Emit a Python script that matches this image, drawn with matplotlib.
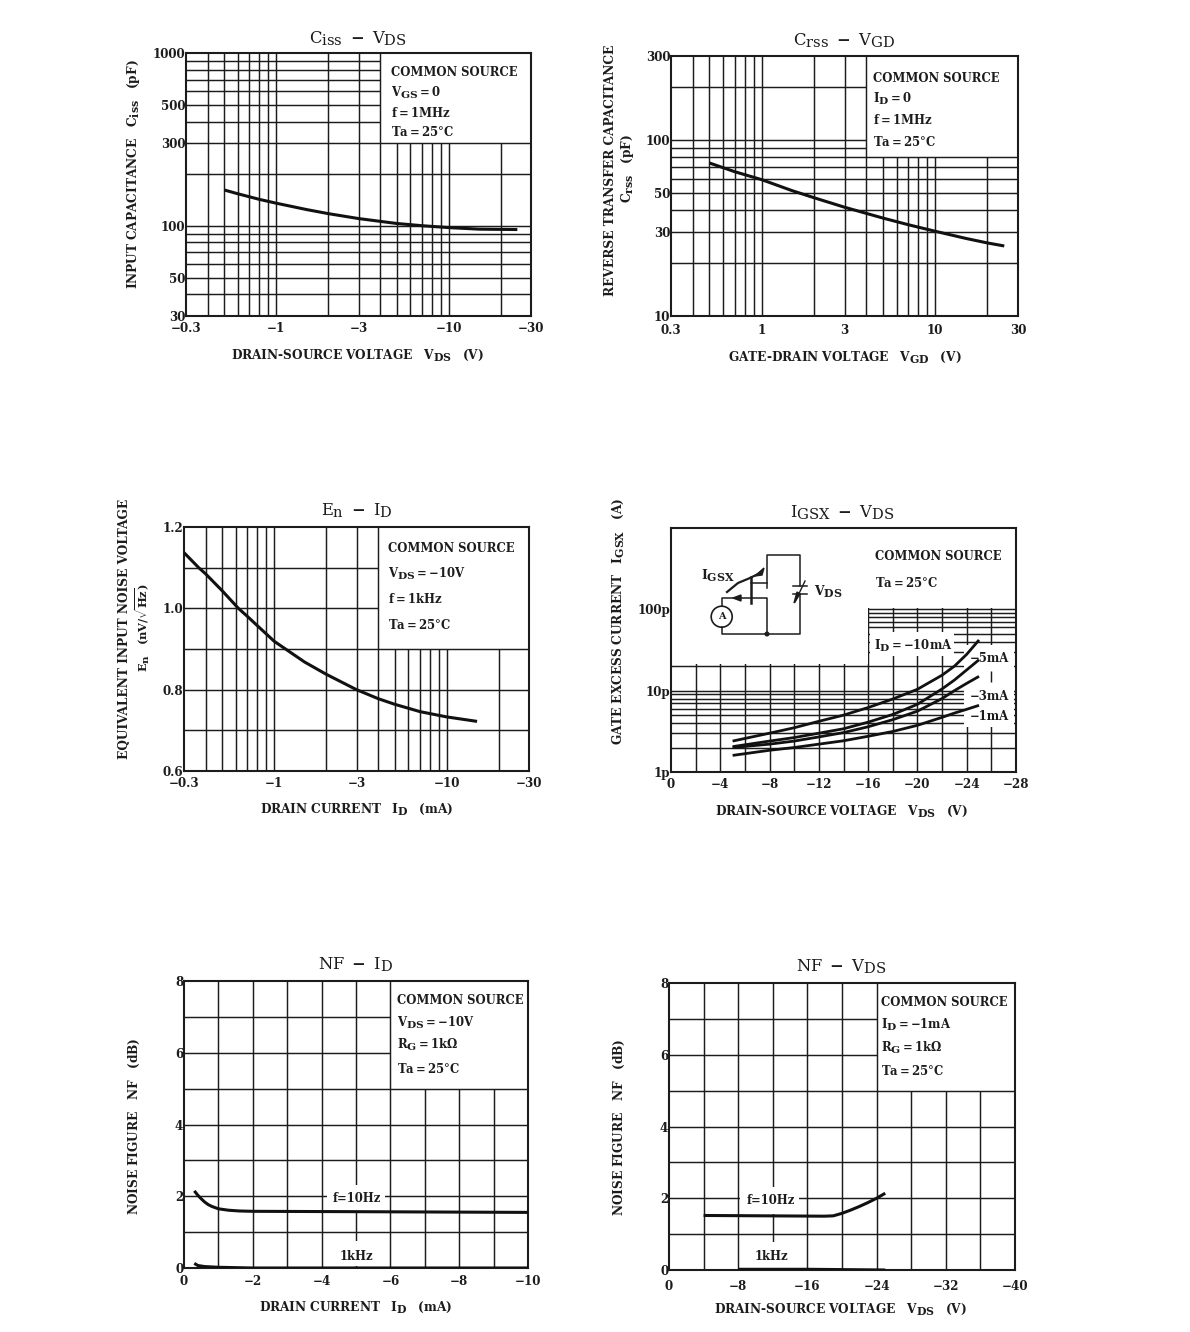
import matplotlib
matplotlib.use("Agg")
import matplotlib.pyplot as plt
from matplotlib.patches import Rectangle, Circle
from matplotlib.ticker import NullLocator
from matplotlib import _mathtext
_mathtext.SHRINK_FACTOR = 0.9

plt.rcParams.update({
    "font.family": "DejaVu Serif", "font.weight": "bold",
    "mathtext.fontset": "custom", "mathtext.rm": "DejaVu Serif:bold",
    "mathtext.it": "DejaVu Serif:normal", "mathtext.bf": "DejaVu Serif:bold",
    "mathtext.default": "it",
})
W, H = 1190, 1332
INK = "#1c1c1c"

# ---------- data ----------
log_grid_x = [0.4, 0.5, 0.6, 0.7, 0.8, 0.9, 1, 2, 3, 4, 5, 6, 7, 8, 9, 10, 20]
log_ticks_x = [0.3, 1, 3, 10, 30]
neg_log_labels = ["−0.3", "−1", "−3", "−10", "−30"]
pos_log_labels = ["0.3", "1", "3", "10", "30"]

ciss_grid_y = [40, 50, 60, 70, 80, 90, 100, 200, 300, 400, 500, 600, 700, 800, 900]
ciss_ticks = [30, 50, 100, 300, 500, 1000]
ciss_vds = [0.5, 0.6, 0.7, 0.8, 1, 1.5, 2, 3, 4, 5, 7, 10, 15, 25]
ciss_val = [161, 153, 147, 142, 135, 124, 117.5, 110, 106, 103, 100, 97.5, 95.5, 95]

crss_grid_y = [20, 30, 40, 50, 60, 70, 80, 90, 100, 200]
crss_ticks = [10, 30, 50, 100, 300]
crss_vgd = [0.5, 0.7, 1, 1.5, 2, 3, 5, 7, 10, 15, 20, 25]
crss_val = [74, 66, 59.5, 51.5, 47, 41.5, 36, 33, 30.3, 27.6, 26, 25]

en_grid_y = [0.7, 0.8, 0.9, 1.0, 1.1]
en_ticks = [0.6, 0.8, 1.0, 1.2]
en_labels = ["0.6", "0.8", "1.0", "1.2"]
en_id = [0.3, 0.365, 0.4, 0.5, 0.62, 0.7, 0.8, 0.9, 1, 1.5, 2, 3, 4, 5, 7, 10, 15]
en_val = [1.137, 1.1, 1.085, 1.043, 1.0, 0.98, 0.957, 0.937, 0.919, 0.868, 0.838, 0.80,
          0.778, 0.764, 0.746, 0.733, 0.722]

igsx_grid_x = [2, 4, 6, 8, 10, 12, 14, 16, 18, 20, 22, 24, 26]
igsx_grid_y = [2, 3, 4, 5, 6, 7, 8, 9, 10, 20, 30, 40, 50, 60, 70, 80, 90, 100]
igsx_ticks_x = [0, 4, 8, 12, 16, 20, 24, 28]
igsx_labels_x = ["0", "−4", "−8", "−12", "−16", "−20", "−24", "−28"]
igsx_ticks_y = [1, 10, 100]
igsx_labels_y = ["1p", "10p", "100p"]
igsx_vds = [5, 8, 10, 12, 14, 16, 18, 20, 22, 23, 24, 25]
igsx_10ma = [2.4, 3.0, 3.5, 4.2, 5.0, 6.2, 7.9, 10.4, 15.5, 20, 28, 42]
igsx_5ma = [2.05, 2.4, 2.65, 3.0, 3.4, 4.1, 5.1, 6.8, 10.5, 13.5, 18, 24]
igsx_3ma = [2.0, 2.2, 2.4, 2.7, 3.05, 3.6, 4.4, 5.6, 8, 10, 12.3, 15]
igsx_1ma = [1.6, 1.85, 2.0, 2.2, 2.42, 2.75, 3.15, 3.75, 4.7, 5.3, 5.9, 6.6]

nf_grid_y = [1, 2, 3, 4, 5, 6, 7]
nf_ticks_y = [0, 2, 4, 6, 8]
nfi_grid_x = [1, 2, 3, 4, 5, 6, 7, 8, 9]
nfi_ticks_x = [0, 2, 4, 6, 8, 10]
nfi_labels_x = ["0", "−2", "−4", "−6", "−8", "−10"]
nfi_id = [0.3, 0.4, 0.5, 0.6, 0.7, 0.8, 1, 1.3, 1.6, 2, 5, 10]
nfi_10hz = [2.15, 2.03, 1.93, 1.84, 1.77, 1.72, 1.65, 1.61, 1.59, 1.58, 1.57, 1.55]
nfi_id_1k = [0.3, 0.4, 0.6, 1, 2, 10]
nfi_1khz = [0.13, 0.07, 0.04, 0.02, 0.0, 0.0]

nfv_grid_x = [4, 8, 12, 16, 20, 24, 28, 32, 36]
nfv_ticks_x = [0, 8, 16, 24, 32, 40]
nfv_labels_x = ["0", "−8", "−16", "−24", "−32", "−40"]
nfv_vds = [4, 18, 19, 20, 21, 22, 23, 24, 25]
nfv_10hz = [1.52, 1.5, 1.51, 1.58, 1.67, 1.77, 1.88, 2.0, 2.14]
nfv_vds_1k = [8, 16, 25]
nfv_1khz = [0.02, 0.02, 0.0]

fig = plt.figure(figsize=(W / 100, H / 100), dpi=100, facecolor="white")


def panel(box, xlim, ylim, gx, gy, cut, xt, xl, yt, yl, logx=False, logy=False, pad=4.0):
    """box: pixel left, right, top, bottom; cut: x,y of the empty upper-right corner."""
    l, r, t, b = box
    ax = fig.add_axes([l / W, 1 - b / H, (r - l) / W, (b - t) / H])
    if logx:
        ax.set_xscale("log")
    if logy:
        ax.set_yscale("log")
    ax.set_xlim(*xlim)
    ax.set_ylim(*ylim)
    ax.xaxis.set_minor_locator(NullLocator())
    ax.yaxis.set_minor_locator(NullLocator())
    ax.set_xticks(xt, xl)
    ax.set_yticks(yt, yl)
    ax.tick_params(length=0, labelsize=8.6, colors=INK)
    ax.tick_params(axis="x", pad=pad)
    ax.tick_params(axis="y", pad=0.5)
    for s in ax.spines.values():
        s.set_linewidth(1.5)
        s.set_color(INK)
    for v in gx:
        ax.vlines(v, ylim[0], cut[1] if v > cut[0] else ylim[1], color=INK, lw=1.05, zorder=1)
    for h in gy:
        ax.hlines(h, xlim[0], cut[0] if h > cut[1] else xlim[1], color=INK, lw=1.05, zorder=1)
    return ax


def mask(ax, x0, x1, y0, y1):
    ax.add_patch(Rectangle((x0, y0), x1 - x0, y1 - y0, fc="white", ec="none", zorder=1.5))


def curve(ax, x, y, lw=2.2):
    ax.plot(x, y, color="#111111", lw=lw, zorder=3, solid_capstyle="butt")


a = panel((186, 531, 53, 316), (0.3, 30), (30, 1000), log_grid_x, ciss_grid_y, (4, 300),
          log_ticks_x, neg_log_labels, ciss_ticks, [str(v) for v in ciss_ticks], True, True)
curve(a, ciss_vds, ciss_val)

b = panel((671, 1018, 56, 316), (0.3, 30), (10, 300), log_grid_x, crss_grid_y, (4, 80),
          log_ticks_x, pos_log_labels, crss_ticks, [str(v) for v in crss_ticks], True, True, pad=6)
curve(b, crss_vgd, crss_val)

c = panel((184, 529, 527, 771), (0.3, 30), (0.6, 1.2), log_grid_x, en_grid_y, (4, 0.9),
          log_ticks_x, neg_log_labels, en_ticks, en_labels, True, False)
curve(c, en_id, en_val)

d = panel((671, 1016, 528, 772), (0, 28), (1, 1000), igsx_grid_x, igsx_grid_y, (28, 1000),
          igsx_ticks_x, igsx_labels_x, igsx_ticks_y, igsx_labels_y, False, True)
mask(d, 0, 15.95, 21, 1000)
mask(d, 15.95, 28, 105, 1000)
mask(d, 16.15, 23.0, 26.5, 52)
mask(d, 23.8, 27.85, 3.6, 36)
d.vlines(26, 12.8, 17.5, color=INK, lw=1.05, zorder=2)
for series in (igsx_10ma, igsx_5ma, igsx_3ma, igsx_1ma):
    curve(d, igsx_vds, series, lw=2.0)

e = panel((184, 528, 981, 1268), (0, 10), (0, 8), nfi_grid_x, nf_grid_y, (6, 5),
          nfi_ticks_x, nfi_labels_x, nf_ticks_y, [str(v) for v in nf_ticks_y], pad=5)
mask(e, 4.15, 5.85, 1.58, 2.3)
mask(e, 4.3, 5.7, 0.05, 0.75)
curve(e, nfi_id, nfi_10hz)
curve(e, nfi_id_1k, nfi_1khz)

f = panel((669, 1015, 983, 1270), (0, 40), (0, 8), nfv_grid_x, nf_grid_y, (24, 5),
          nfv_ticks_x, nfv_labels_x, nf_ticks_y, [str(v) for v in nf_ticks_y], pad=7)
mask(f, 8.2, 15.0, 1.55, 2.3)
mask(f, 8.4, 15.6, 0.05, 0.78)
curve(f, nfv_vds, nfv_10hz)
curve(f, nfv_vds_1k, nfv_1khz)

# ---------- overlay in pixel coordinates, for all free text and the circuit ----------
ov = fig.add_axes([0, 0, 1, 1], zorder=10)
ov.set_xlim(0, W)
ov.set_ylim(H, 0)
ov.axis("off")
ov.patch.set_alpha(0)


def T(x, y, s, size=8.4, ha="center", rot=0):
    ov.text(x, y, s, fontsize=size, ha=ha, va="center", rotation=rot, color=INK,
            rotation_mode="anchor" if rot == 0 else "default")


def M(s):
    return r"$\mathrm{" + s + "}$"


for x, y, s in [(358, 39, r"$C_{iss}\ -\ V_{DS}$"), (844, 41, r"$C_{rss}\ -\ V_{GD}$"),
                (357, 511, r"$E_{n}\ -\ I_{D}$"), (842, 513, r"$I_{GSX}\ -\ V_{DS}$"),
                (356, 965, r"$NF\ -\ I_{D}$"), (841, 967, r"$NF\ -\ V_{DS}$")]:
    T(x, y, s, size=11.8)

XS = 8.7
T(358, 355, M(r"DRAIN\text{-}SOURCE\ VOLTAGE\ \ \ V_{DS}\ \ \ (V)"), XS)
T(845, 357, M(r"GATE\text{-}DRAIN\ VOLTAGE\ \ \ V_{GD}\ \ \ (V)"), XS)
T(357, 809, M(r"DRAIN\ CURRENT\ \ \ I_{D}\ \ \ (mA)"), XS)
T(842, 811, M(r"DRAIN\text{-}SOURCE\ VOLTAGE\ \ \ V_{DS}\ \ \ (V)"), XS)
T(356, 1307, M(r"DRAIN\ CURRENT\ \ \ I_{D}\ \ \ (mA)"), XS)
T(841, 1309, M(r"DRAIN\text{-}SOURCE\ VOLTAGE\ \ \ V_{DS}\ \ \ (V)"), XS)

T(134, 174, M(r"INPUT\ CAPACITANCE\ \ \ C_{iss}\ \ \ (pF)"), XS, rot=90)
T(611, 170, "REVERSE TRANSFER CAPACITANCE", XS, rot=90)
T(628, 168, M(r"C_{rss}\ \ \ (pF)"), XS, rot=90)
T(124, 629, "EQUIVALENT INPUT NOISE VOLTAGE", XS, rot=90)
T(143, 627, M(r"E_{n}\ \ \ (nV/\sqrt{Hz})"), 8.2, rot=90)
T(618, 621, M(r"GATE\ EXCESS\ CURRENT\ \ \ I_{GSX}\ \ \ (A)"), XS, rot=90)
T(134, 1126, M(r"NOISE\ FIGURE\ \ \ NF\ \ \ (dB)"), XS, rot=90)
T(619, 1127, M(r"NOISE\ FIGURE\ \ \ NF\ \ \ (dB)"), XS, rot=90)

legends = [
    (391, [73, 93, 113, 132], ["COMMON SOURCE", M("V_{GS}=0"), M("f=1MHz"), M("Ta=25°C")]),
    (873, [78, 99, 120, 142], ["COMMON SOURCE", M("I_{D}=0"), M("f=1MHz"), M("Ta=25°C")]),
    (388, [548, 574, 599, 625], ["COMMON SOURCE", M("V_{DS}=-10V"), M("f=1kHz"), M("Ta=25°C")]),
    (875, [556, 583], ["COMMON SOURCE", M("Ta=25°C")]),
    (397, [1000, 1023, 1045, 1069], ["COMMON SOURCE", M("V_{DS}=-10V"), M(r"R_{G}=1k\Omega"), M("Ta=25°C")]),
    (881, [1002, 1025, 1048, 1071], ["COMMON SOURCE", M("I_{D}=-1mA"), M(r"R_{G}=1k\Omega"), M("Ta=25°C")]),
]
for x, ys, lines in legends:
    for y, s in zip(ys, lines):
        T(x, y, s, 8.4, ha="left")

T(874, 646, M("I_{D}=-10mA"), 8.4, ha="left")
T(970, 659, "−5mA", 8.4, ha="left")
T(970, 697, "−3mA", 8.4, ha="left")
T(970, 717, "−1mA", 8.4, ha="left")
T(357, 1198, "f=10Hz", 8.4)
T(356, 1256, "1kHz", 8.4)
T(771, 1201, "f=10Hz", 8.4)
T(771, 1257, "1kHz", 8.4)

# test-circuit sketch, in pixels
T(718, 576, M("I_{GSX}"), 8.8)
T(828, 592, M("V_{DS}"), 8.8)


def wire(pts, lw=1.1):
    ov.plot([p[0] for p in pts], [p[1] for p in pts], color=INK, lw=lw, solid_capstyle="projecting")


wire([(767, 588), (767, 555), (800, 555), (800, 586)])
wire([(800, 594), (800, 634), (722, 634), (722, 627)])
wire([(722, 606), (722, 598), (767, 598), (767, 634)])
wire([(767, 583), (751, 583)])
wire([(751, 577), (751, 603)], lw=1.8)
wire([(727, 592), (738, 583), (750, 578), (760, 573)], lw=1.6)
ov.fill([764, 755, 762], [568, 576, 575], color=INK)
ov.fill([733, 741, 741], [598, 595, 601], color=INK)
ov.add_patch(Circle((721.7, 616.7), 10.5, fc="white", ec=INK, lw=1.2))
T(721.7, 616.7, "A", 7)
ov.add_patch(Circle((767, 634), 1.8, fc=INK, ec=INK))
wire([(793, 586), (807, 586)])
wire([(793, 594), (807, 594)])
wire([(795, 602), (805, 581)], lw=1.0)
ov.fill([794, 800, 797], [603, 594, 592], color=INK)

fig.savefig("out.png", dpi=100, facecolor="white")
